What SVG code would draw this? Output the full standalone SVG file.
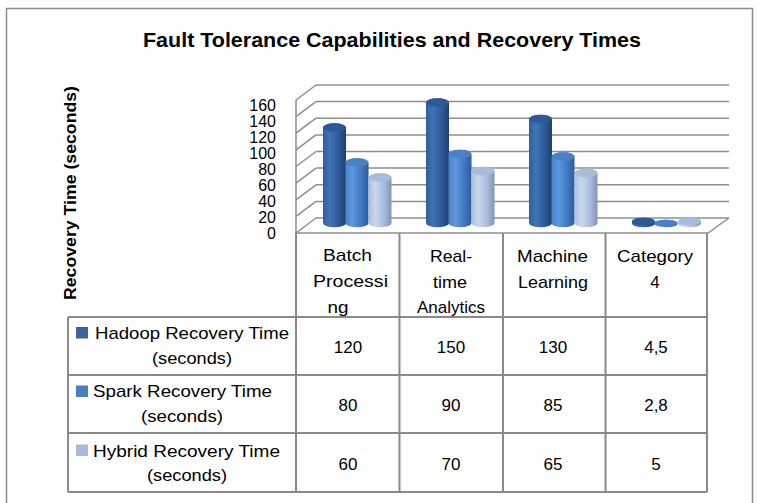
<svg xmlns="http://www.w3.org/2000/svg" width="768" height="503" viewBox="0 0 768 503">
<defs>
  <linearGradient id="gH" x1="0" y1="0" x2="1" y2="0">
    <stop offset="0" stop-color="#2f5f9f"/><stop offset="0.3" stop-color="#4173b5"/><stop offset="0.7" stop-color="#2c5a97"/><stop offset="1" stop-color="#1d3f6e"/>
  </linearGradient>
  <linearGradient id="gS" x1="0" y1="0" x2="1" y2="0">
    <stop offset="0" stop-color="#4a82c8"/><stop offset="0.3" stop-color="#5e98dd"/><stop offset="0.7" stop-color="#4077bf"/><stop offset="1" stop-color="#2d5c9c"/>
  </linearGradient>
  <linearGradient id="gY" x1="0" y1="0" x2="1" y2="0">
    <stop offset="0" stop-color="#aebfdd"/><stop offset="0.3" stop-color="#cad8ef"/><stop offset="0.7" stop-color="#a7b9da"/><stop offset="1" stop-color="#7f94bb"/>
  </linearGradient>
</defs>
<style>
  text { font-family: "Liberation Sans", Arial, sans-serif; fill: #000; }
  .title { font-size: 21px; font-weight: bold; text-anchor: middle; }
  .axt { font-size: 17px; font-weight: bold; text-anchor: middle; }
  .tick { font-size: 16px; text-anchor: end; }
  .cat { font-size: 17px; text-anchor: middle; }
  .val { font-size: 17px; text-anchor: middle; }
  .leg { font-size: 17px; text-anchor: middle; }
  .grid { stroke: #8e8e8e; stroke-width: 1.5; fill: none; }
  .tbl { stroke: #8a8a8a; stroke-width: 2; fill: none; }
  .tH { fill: #2d5a95; }
  .tS { fill: #4a80c4; }
  .tY { fill: #a9bbda; }
</style>
<rect x="0" y="0" width="768" height="503" fill="#ffffff"/>
<rect x="6.5" y="8.5" width="746" height="500" fill="none" stroke="#8c8c8c" stroke-width="1.5"/>

<text class="title" x="392" y="47" textLength="498" lengthAdjust="spacingAndGlyphs">Fault Tolerance Capabilities and Recovery Times</text>
<text class="axt" transform="translate(76,193) rotate(-90)" textLength="214" lengthAdjust="spacingAndGlyphs">Recovery Time (seconds)</text>

<g id="axis">
  <text class="tick" x="276" y="111">160</text>
  <text class="tick" x="276" y="127">140</text>
  <text class="tick" x="276" y="143">120</text>
  <text class="tick" x="276" y="159">100</text>
  <text class="tick" x="276" y="175">80</text>
  <text class="tick" x="276" y="191">60</text>
  <text class="tick" x="276" y="207">40</text>
  <text class="tick" x="276" y="223">20</text>
  <text class="tick" x="276" y="239">0</text>
</g>

<g id="walls" class="grid">
  <path d="M316,85H729 M316,101.6H729 M316,118.2H729 M316,134.9H729 M316,151.5H729 M316,168.1H729 M316,184.8H729 M316,201.4H729 M316,218H729"/>
  <path d="M296,100L316,85 M296,116.6L316,101.6 M296,133.2L316,118.2 M296,149.9L316,134.9 M296,166.5L316,151.5 M296,183.1L316,168.1 M296,199.8L316,184.8 M296,216.4L316,201.4 M296,233L316,218"/>
  <path d="M296,100V233 M296,233H708 L729,218"/>
</g>

<g id="series-hadoop">
  <path fill="url(#gH)" d="M323,127.5V223A11.5,4.25 0 0 0 346,223V127.5A11.5,4.25 0 0 0 323,127.5Z"/>
  <ellipse class="tH" cx="334.5" cy="127.5" rx="11.5" ry="4.25"/>
  <path fill="url(#gH)" d="M426,102.5V223A11.5,4.25 0 0 0 449,223V102.5A11.5,4.25 0 0 0 426,102.5Z"/>
  <ellipse class="tH" cx="437.5" cy="102.5" rx="11.5" ry="4.25"/>
  <path fill="url(#gH)" d="M529,119V223A11.5,4.25 0 0 0 552,223V119A11.5,4.25 0 0 0 529,119Z"/>
  <ellipse class="tH" cx="540.5" cy="119" rx="11.5" ry="4.25"/>
  <path fill="url(#gH)" d="M632,221.5V223.5A11.5,3.8 0 0 0 655,223.5V221.5A11.5,3.8 0 0 0 632,221.5Z"/>
  <ellipse class="tH" cx="643.5" cy="221.5" rx="11.5" ry="3.8"/>
</g>
<g id="series-spark">
  <path fill="url(#gS)" d="M345.5,162.5V223A11.5,4.25 0 0 0 368.5,223V162.5A11.5,4.25 0 0 0 345.5,162.5Z"/>
  <ellipse class="tS" cx="357" cy="162.5" rx="11.5" ry="4.25"/>
  <path fill="url(#gS)" d="M448.5,154V223A11.5,4.25 0 0 0 471.5,223V154A11.5,4.25 0 0 0 448.5,154Z"/>
  <ellipse class="tS" cx="460" cy="154" rx="11.5" ry="4.25"/>
  <path fill="url(#gS)" d="M551.5,156.5V223A11.5,4.25 0 0 0 574.5,223V156.5A11.5,4.25 0 0 0 551.5,156.5Z"/>
  <ellipse class="tS" cx="563" cy="156.5" rx="11.5" ry="4.25"/>
  <path fill="url(#gS)" d="M654.5,223V224A11.5,3.2 0 0 0 677.5,224V223A11.5,3.2 0 0 0 654.5,223Z"/>
  <ellipse class="tS" cx="666" cy="223" rx="11.5" ry="3.2"/>
</g>
<g id="series-hybrid">
  <path fill="url(#gY)" d="M368.5,177.5V223A11.5,4.25 0 0 0 391.5,223V177.5A11.5,4.25 0 0 0 368.5,177.5Z"/>
  <ellipse class="tY" cx="380" cy="177.5" rx="11.5" ry="4.25"/>
  <path fill="url(#gY)" d="M471.5,171V223A11.5,4.25 0 0 0 494.5,223V171A11.5,4.25 0 0 0 471.5,171Z"/>
  <ellipse class="tY" cx="483" cy="171" rx="11.5" ry="4.25"/>
  <path fill="url(#gY)" d="M574.5,173V223A11.5,4.25 0 0 0 597.5,223V173A11.5,4.25 0 0 0 574.5,173Z"/>
  <ellipse class="tY" cx="586" cy="173" rx="11.5" ry="4.25"/>
  <path fill="url(#gY)" d="M678,221.5V223.5A11.5,3.8 0 0 0 701,223.5V221.5A11.5,3.8 0 0 0 678,221.5Z"/>
  <ellipse class="tY" cx="689.5" cy="221.5" rx="11.5" ry="3.8"/>
</g>

<g id="table">
  <path class="tbl" d="M296,233V492 M399.5,233V492 M503,233V492 M605.5,233V492 M707,233V492 M68,317V492 M68,317H707 M68,375H707 M68,433H707 M68,492H707"/>
  <text class="cat" x="347.5" y="261" textLength="49" lengthAdjust="spacingAndGlyphs">Batch</text>
  <text class="cat" x="350.5" y="287" textLength="75" lengthAdjust="spacingAndGlyphs">Processi</text>
  <text class="cat" x="338" y="313" textLength="21" lengthAdjust="spacingAndGlyphs">ng</text>
  <text class="cat" x="451" y="262" textLength="42" lengthAdjust="spacingAndGlyphs">Real-</text>
  <text class="cat" x="450" y="288" textLength="34" lengthAdjust="spacingAndGlyphs">time</text>
  <text class="cat" x="451" y="313">Analytics</text>
  <text class="cat" x="552.5" y="262" textLength="71" lengthAdjust="spacingAndGlyphs">Machine</text>
  <text class="cat" x="553" y="288" textLength="70" lengthAdjust="spacingAndGlyphs">Learning</text>
  <text class="cat" x="655" y="262" textLength="76" lengthAdjust="spacingAndGlyphs">Category</text>
  <text class="cat" x="655" y="288">4</text>

  <rect x="76" y="327" width="12" height="11.5" fill="#3a63a0"/>
  <text class="leg" x="192" y="339" textLength="194" lengthAdjust="spacingAndGlyphs">Hadoop Recovery Time</text>
  <text class="leg" x="192" y="364" textLength="80" lengthAdjust="spacingAndGlyphs">(seconds)</text>
  <rect x="76" y="385.5" width="12" height="11.5" fill="#4a7ebf"/>
  <text class="leg" x="182.5" y="397" textLength="179" lengthAdjust="spacingAndGlyphs">Spark Recovery Time</text>
  <text class="leg" x="182" y="422" textLength="82" lengthAdjust="spacingAndGlyphs">(seconds)</text>
  <rect x="76" y="444.5" width="12" height="11.5" fill="#a9b9da"/>
  <text class="leg" x="186.5" y="456.5" textLength="187" lengthAdjust="spacingAndGlyphs">Hybrid Recovery Time</text>
  <text class="leg" x="187" y="481" textLength="80" lengthAdjust="spacingAndGlyphs">(seconds)</text>

  <text class="val" x="348" y="352.5">120</text>
  <text class="val" x="451" y="352.5">150</text>
  <text class="val" x="553" y="352.5">130</text>
  <text class="val" x="656" y="352.5">4,5</text>
  <text class="val" x="348" y="411">80</text>
  <text class="val" x="451" y="411">90</text>
  <text class="val" x="553" y="411">85</text>
  <text class="val" x="656" y="411">2,8</text>
  <text class="val" x="348" y="469.5">60</text>
  <text class="val" x="451" y="469.5">70</text>
  <text class="val" x="553" y="469.5">65</text>
  <text class="val" x="656" y="469.5">5</text>
</g>
</svg>
